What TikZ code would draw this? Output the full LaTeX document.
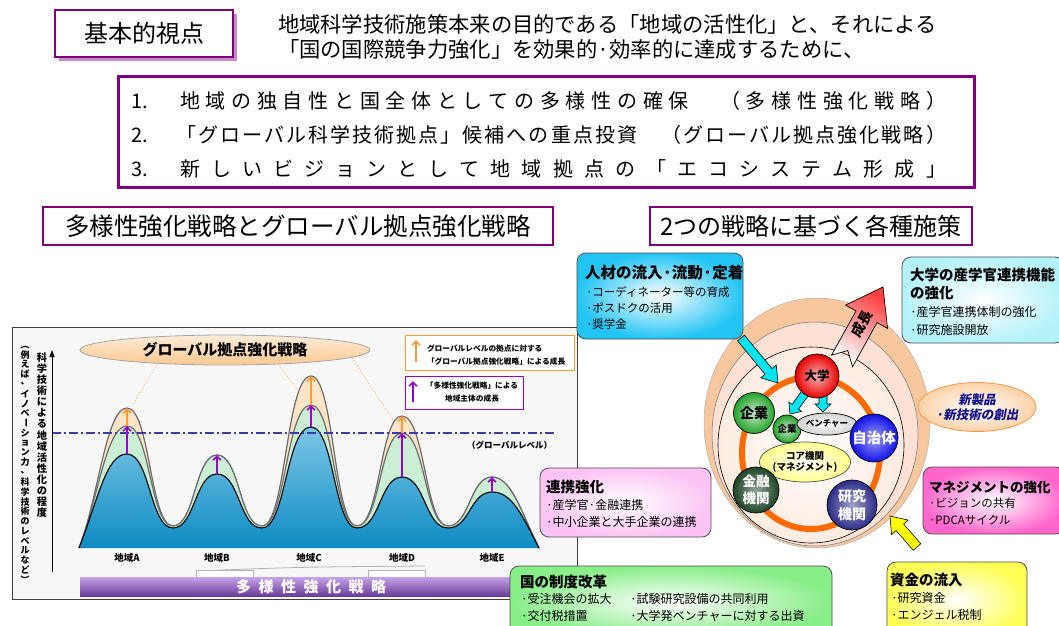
\documentclass[tikz,border=0pt]{standalone}
\usepackage{fontspec}
\usepackage{graphicx}
\setmainfont{Noto Sans CJK JP}
\newfontfamily\jpsl[FakeSlant=0.2]{Noto Sans CJK JP}
\usetikzlibrary{arrows.meta,calc,shapes.geometric}
\definecolor{myPurple}{HTML}{800080}
\definecolor{legOrange}{HTML}{FF9933}
\definecolor{legPurple}{HTML}{9900CC}
\definecolor{navyLine}{HTML}{3B3BA8}
\definecolor{mtBlueTop}{HTML}{7CC6E6}
\definecolor{mtBlueBot}{HTML}{0E8CC4}
\definecolor{mtGreen}{HTML}{CBEFD4}
\definecolor{mtOrange}{HTML}{FDE4C6}
\definecolor{ellPeach}{HTML}{FBC890}
\definecolor{barTop}{HTML}{C7A3E8}
\definecolor{barBot}{HTML}{6A3D9A}
\definecolor{ringOuter}{HTML}{F9C79E}
\definecolor{ringMid}{HTML}{FCE1D4}
\definecolor{ringIn}{HTML}{FDEBE0}
\definecolor{ringOrange}{HTML}{FF6A00}
\definecolor{boxCyan}{HTML}{22C4F4}
\definecolor{boxLCyan}{HTML}{B4F2FA}
\definecolor{boxPink}{HTML}{FF66CC}
\definecolor{boxLPink}{HTML}{FBC4F4}
\definecolor{boxYellow}{HTML}{FFFF55}
\definecolor{boxGreen}{HTML}{88EE88}
\definecolor{arrCyan}{HTML}{00E5F0}
\definecolor{arrYellow}{HTML}{FFFF00}
\definecolor{ballRed}{HTML}{E80000}
\definecolor{ballGreen}{HTML}{22A32A}
\definecolor{ballBlue}{HTML}{1010E8}
\definecolor{ballDkGreen}{HTML}{1E4526}
\definecolor{ballNavy}{HTML}{2C2C88}
\definecolor{coreYellow}{HTML}{FFFF88}
\definecolor{newBlue}{HTML}{10108F}
\definecolor{newPeach}{HTML}{FBD2A8}
\definecolor{newEdge}{HTML}{F79646}
\makeatletter
\newcommand\spreadline[2]{\makebox[#1][s]{\def\spsep{}\@tfor\spch:=#2\do{\spsep\spch\def\spsep{\hfill}}}}
\newcommand\vstack[2]{\vbox{\offinterlineskip\@tfor\spch:=#2\do{\hbox to 1.2em{\hss\vbox to #1{\vss\hbox{\spch}\vss}\hss}}}}
\makeatother
\newcommand\fsz[1]{\fontsize{#1}{#1}\selectfont}
\newcommand\vbar{\rotatebox[origin=c]{-90}{ー}}
\newcommand\vlp{\rotatebox[origin=c]{-90}{（}}
\newcommand\vrp{\rotatebox[origin=c]{-90}{）}}
\newcommand\mtpath[6]{(79,548) .. controls (98,500) and (106,#1) .. (127,#1) .. controls (150,#1) and (150,#6) .. (173,#6) .. controls (195,#6) and (195,#2) .. (217,#2) .. controls (240,#2) and (239,#6) .. (262,#6) .. controls (286,#6) and (286,#3) .. (311,#3) .. controls (334,#3) and (334,#6) .. (357,#6) .. controls (380,#6) and (380,#4) .. (402,#4) .. controls (425,#4) and (425,#6) .. (448,#6) .. controls (470,#6) and (470,#5) .. (492,#5) .. controls (512,#5) and (522,515) .. (539,548)}
\newcommand\fatarrow[6]{%
  \coordinate (fah) at ($(#3)!#6!(#2)$);
  \path[#1] ($(#2)!#4!90:(#3)$) -- ($(fah)!#4!90:(#3)$) -- ($(fah)!#5!90:(#3)$) -- (#3) -- ($(fah)!#5!-90:(#3)$) -- ($(fah)!#4!-90:(#3)$) -- ($(#2)!#4!-90:(#3)$) -- cycle;}
\begin{document}
\begin{tikzpicture}[x=1pt,y=-1pt,
  every node/.style={inner sep=0pt,outer sep=0pt},
  lbl/.style={anchor=west},
  ttl/.style={anchor=west,font={\fsz{14.5}\bfseries}},
  itm/.style={anchor=west,font={\fsz{12}}},
  infobox/.style={draw=black!70,line width=0.8pt,rounded corners=9pt,anchor=north west},
  hdrbox/.style={draw=myPurple,line width=2pt,fill=white,anchor=north west},
  ball/.style={circle,draw=black,line width=0.7pt},
  mtline/.style={draw=gray!85!black,line width=1.2pt},
  dotline/.style={draw=legOrange!70,line width=1pt,dotted},
  purarr/.style={-{Straight Barb[length=4pt,width=8pt]},legPurple,line width=1.6pt},
  orarr/.style={-{Straight Barb[length=4pt,width=8pt]},legOrange,line width=1.6pt},
  fatstyle/.style={draw=black,line width=0.6pt}]
\useasboundingbox (0,0) rectangle (1059,625);
\clip (0,0) rectangle (1059,625);
\fill[white] (0,0) rectangle (1059,625);

% ---------- header ----------
\fill[myPurple!45] (59,14) rectangle (237,61);
\node[draw=myPurple,line width=1.3pt,fill=white,minimum width=178pt,minimum height=47pt,anchor=north west] (kihon) at (55,10) {\fsz{24}基本的視点};
\node[lbl] (intro1) at (278,24) {\fsz{21.3}地域科学技術施策本来の目的である「地域の活性化」と、それによる};
\node[lbl] (intro2) at (278,49) {\fsz{21.3}「国の国際競争力強化」を効果的·効率的に達成するために、};

\node[draw=myPurple,line width=3pt,minimum width=856pt,minimum height=111pt,anchor=north west] (prin) at (118,76) {};
\node[lbl] (num1) at (131,101) {\fsz{20}1.};
\node[lbl] (line1) at (180,101) {\fsz{20}\spreadline{766pt}{地域の独自性と国全体としての多様性の確保　（多様性強化戦略）}};
\node[lbl] (num2) at (131,135) {\fsz{20}2.};
\node[lbl] (line2) at (176,135) {\fsz{20}\spreadline{770pt}{「グローバル科学技術拠点」候補への重点投資　（グローバル拠点強化戦略）}};
\node[lbl] (num3) at (131,169) {\fsz{20}3.};
\node[lbl] (line3) at (180,169) {\fsz{20}\spreadline{766pt}{新しいビジョンとして地域拠点の「エコシステム形成」}};

\node[hdrbox,minimum width=510pt,minimum height=38pt] (hdrL) at (43,207) {\fsz{24.5}多様性強化戦略とグローバル拠点強化戦略};
\node[hdrbox,minimum width=322pt,minimum height=38pt] (hdrR) at (650,207) {\fsz{24}2つの戦略に基づく各種施策};

% ---------- left panel ----------
\node[draw=black!75,line width=0.8pt,fill=black!3,minimum width=565pt,minimum height=272pt,anchor=north west] (panel) at (12,327) {};

\path[fill=mtOrange] \mtpath{408}{455}{376}{416}{477}{526} -- cycle;
\path[mtline] \mtpath{408}{455}{376}{416}{477}{526};
\path[fill=mtGreen] \mtpath{426}{455}{405}{433}{477}{526} -- cycle;
\path[mtline] \mtpath{426}{455}{405}{433}{477}{526};
\shade[top color=mtBlueTop,bottom color=mtBlueBot] \mtpath{454}{474}{427}{477}{492}{528} -- cycle;
\draw[black,line width=1.1pt] \mtpath{454}{474}{427}{477}{492}{528};

\coordinate (glL) at (52,433);
\coordinate (glR) at (557,433);
\draw[navyLine,line width=1.8pt,dash pattern=on 9pt off 3pt on 2pt off 3pt] (glL) -- (glR);
\node[anchor=east] (globLvl) at (552,445) {\fsz{8.5}\bfseries （グローバルレベル）};

\coordinate (bA) at (127,454); \coordinate (gA) at (127,426); \coordinate (oA) at (127,408);
\coordinate (bB) at (217,474); \coordinate (gB) at (217,455);
\coordinate (bC) at (311,427); \coordinate (gC) at (311,405); \coordinate (oC) at (311,376);
\coordinate (bD) at (402,477); \coordinate (gD) at (402,433); \coordinate (oD) at (402,416);
\coordinate (bE) at (492,492); \coordinate (gE) at (492,477);
\draw[purarr] (bA) -- (gA);
\draw[purarr] (bB) -- (gB);
\draw[purarr] (bC) -- (gC);
\draw[purarr] (bD) -- (gD);
\draw[purarr] (bE) -- (gE);
\draw[orarr] (gA) -- (oA);
\draw[orarr] (gC) -- (oC);
\draw[orarr] (gD) -- (oD);

\coordinate (axB) at (52,572);
\coordinate (axT) at (52,350);
\draw[-{Triangle[length=7pt,width=5pt]},line width=1pt] (axB) -- (axT);
\node[anchor=north] (axLbl1) at (42,352) {\fsz{10.2}\bfseries\vstack{11.1pt}{科学技術による地域活性化の程度}};
\node[anchor=north] (axLbl2) at (25,340) {\fsz{9}\bfseries\vstack{9.8pt}{\vlp 例えば、イノベ\vbar ション力、科学技術のレベルなど\vrp}};

\coordinate (e1) at (157,364); \coordinate (dA) at (133,404);
\coordinate (e2) at (278,364); \coordinate (dC) at (299,392);
\coordinate (e3) at (352,358); \coordinate (dD) at (393,420);
\draw[dotline] (e1) -- (dA);
\draw[dotline] (e2) -- (dC);
\draw[dotline] (e3) -- (dD);
\node[ellipse,draw=gray!70,line width=0.8pt,top color=ellPeach!35!white,bottom color=ellPeach,minimum width=290pt,minimum height=30pt] (globEll) at (225,350) {\fsz{15}\bfseries グローバル拠点強化戦略};

\node[draw=legOrange,line width=1pt,fill=white,minimum width=169pt,minimum height=35pt,anchor=north west] (legO) at (405,335) {};
\coordinate (loB) at (416,362); \coordinate (loT) at (416,340);
\draw[orarr] (loB) -- (loT);
\node[lbl] (legOt1) at (427,348) {\fsz{7.7}\bfseries グローバルレベルの拠点に対する};
\node[lbl] (legOt2) at (427,362) {\fsz{7.7}\bfseries 「グローバル拠点強化戦略」による成長};
\node[draw=legPurple,line width=1pt,fill=white,minimum width=118pt,minimum height=33pt,anchor=north west] (legP) at (405,376) {};
\coordinate (lpB) at (413,402); \coordinate (lpT) at (413,381);
\draw[purarr] (lpB) -- (lpT);
\node (legPt1) at (472,386) {\fsz{7.7}\bfseries 「多様性強化戦略」による};
\node (legPt2) at (472,399) {\fsz{7.7}\bfseries 地域主体の成長};

\foreach \n/\x in {A/127,B/217,C/309,D/402,E/492}
  \node (reg\n) at (\x,558) {\fsz{9.5}\bfseries 地域\n};

\draw[gray!60,line width=0.8pt] (196,571) .. controls (300,567) .. (425,566);
\node[draw=gray!60,fill=white,line width=0.5pt,minimum width=57pt,minimum height=7pt,anchor=north west] (brL) at (196,570) {};
\node[draw=gray!60,fill=white,line width=0.5pt,minimum width=57pt,minimum height=7pt,anchor=north west] (brR) at (368,570) {};
\node[anchor=north west,minimum width=430pt,minimum height=19pt,top color=barTop,bottom color=barBot] (divBar) at (80,577) {};
\node (divTxt) at (311,587) {\color{white}\fsz{15}\bfseries\spreadline{150pt}{多様性強化戦略}};

% ---------- right: circles ----------
\node[ellipse,fill=ringOuter,draw=black!30,line width=0.5pt,minimum width=226pt,minimum height=250pt] (ringO) at (817,423) {};
\node[ellipse,fill=ringMid,draw=black!55,line width=0.5pt,minimum width=206pt,minimum height=224pt] (ringM) at (815,434) {};
\node[ellipse,inner color=white,outer color=ringIn,draw=black,line width=0.6pt,minimum width=186pt,minimum height=196pt] (ringI) at (811,445) {};
\node[ellipse,draw=ringOrange,line width=6pt,minimum width=138pt,minimum height=152pt] (ringCore) at (811,453) {};

% growth arrow
\coordinate (grB) at (842,361);
\coordinate (grT) at (883,287);
\coordinate (grH) at ($(grT)!34pt!(grB)$);
\coordinate (grN) at ($(grB)!12pt!(grT)$);
\path[draw=black,line width=0.7pt,top color=red!75!white,bottom color=white,shading angle=-29]
  ($(grB)!12pt!90:(grT)$) -- ($(grH)!12pt!90:(grT)$) -- ($(grH)!24pt!90:(grT)$) -- (grT)
  -- ($(grH)!24pt!-90:(grT)$) -- ($(grH)!12pt!-90:(grT)$) -- ($(grB)!12pt!-90:(grT)$) -- (grN) -- cycle;
\node[rotate=61] (grTxt) at (862,324) {\fsz{14}\bfseries 成長};

% small cyan arrows from 大学
\coordinate (c1S) at (806,392); \coordinate (c1T) at (790,414);
\fatarrow{fill=arrCyan,fatstyle}{c1S}{c1T}{4pt}{8pt}{9pt}
\coordinate (c2S) at (823,394); \coordinate (c2T) at (823,412);
\fatarrow{fill=arrCyan,fatstyle}{c2S}{c2T}{4pt}{8pt}{8pt}

\node[ball,minimum size=44pt,inner color=ballRed!30!white,outer color=ballRed] (daigaku) at (817,376) {\fsz{12.5}\bfseries 大学};
\node[ball,minimum size=41pt,inner color=ballGreen!25!white,outer color=ballGreen] (kigyoL) at (754,413) {\fsz{14}\bfseries 企業};
\node[ball,minimum size=28pt,inner color=ballGreen!25!white,outer color=ballGreen] (kigyoS) at (787,429) {\fsz{9.5}\bfseries 企業};
\node[ellipse,draw=black,line width=0.7pt,inner color=white,outer color=gray!35,minimum width=50pt,minimum height=22pt] (venture) at (827,424) {\fsz{8.5}\bfseries ベンチャー};
\node[ball,minimum size=48pt,inner color=ballBlue!40!white,outer color=ballBlue,text=white] (jichitai) at (874,438) {\fsz{14.5}\bfseries 自治体};
\node[ellipse,draw=black!70,line width=0.7pt,inner color=white,outer color=coreYellow,minimum width=74pt,minimum height=40pt,align=center,font={\fsz{9.5}\bfseries}] (core) at (805,462) {コア機関\\[2pt](マネジメント)};
\node[ball,minimum size=46pt,inner color=ballDkGreen!50!white,outer color=ballDkGreen,text=white,align=center,font={\fsz{13.5}\bfseries}] (kinyu) at (756,490) {金融\\[4pt]機関};
\node[ball,minimum size=50pt,inner color=ballNavy!45!white,outer color=ballNavy,text=white,align=center,font={\fsz{14}\bfseries}] (kenkyu) at (852,505) {研究\\[4pt]機関};

\node[ellipse,draw=newEdge,line width=0.8pt,inner color=white,outer color=newPeach,minimum width=118pt,minimum height=49pt,align=center,text=newBlue,font={\jpsl\fsz{12.5}\bfseries}] (newprod) at (977,407) {新製品\\[3pt]·新技術の創出};

% ---------- boxes ----------
\node[infobox,inner color=white,outer color=boxCyan,minimum width=166pt,minimum height=86pt] (jinzaiBox) at (577,253) {};
\node[ttl,font={\fsz{15.5}\bfseries}] (jinzaiT) at (585,273) {人材の流入·流動·定着};
\node[itm,font={\fsz{11.5}}] (jinzai1) at (586,292) {·コーディネーター等の育成};
\node[itm,font={\fsz{11.5}}] (jinzai2) at (586,308) {·ポスドクの活用};
\node[itm,font={\fsz{11.5}}] (jinzai3) at (586,324) {·奨学金};

\node[infobox,inner color=white,outer color=boxLCyan,minimum width=162pt,minimum height=86pt] (sangakuBox) at (902,257) {};
\node[ttl] (sangakuT1) at (910,275) {大学の産学官連携機能};
\node[ttl] (sangakuT2) at (910,293) {の強化};
\node[itm] (sangaku1) at (910,312) {·産学官連携体制の強化};
\node[itm] (sangaku2) at (910,330) {·研究施設開放};

\node[infobox,inner color=white,outer color=boxPink,minimum width=142pt,minimum height=67pt] (mgmtBox) at (923,467) {};
\node[ttl,font={\fsz{13.5}\bfseries}] (mgmtT) at (929,487) {マネジメントの強化};
\node[itm,font={\fsz{11.5}}] (mgmt1) at (929,503) {·ビジョンの共有};
\node[itm,font={\fsz{11.5}}] (mgmt2) at (929,520) {·PDCAサイクル};

\node[infobox,inner color=white,outer color=boxYellow,minimum width=140pt,minimum height=76pt] (shikinBox) at (887,562) {};
\node[ttl] (shikinT) at (890,580) {資金の流入};
\node[itm] (shikin1) at (891,598) {·研究資金};
\node[itm] (shikin2) at (891,615) {·エンジェル税制};

\node[infobox,inner color=white,outer color=boxLPink,minimum width=171pt,minimum height=69pt] (renkeiBox) at (540,468) {};
\node[ttl] (renkeiT) at (546,487) {連携強化};
\node[itm] (renkei1) at (546,505) {·産学官·金融連携};
\node[itm] (renkei2) at (546,522) {·中小企業と大手企業の連携};

\node[infobox,inner color=white,outer color=boxGreen,minimum width=322pt,minimum height=72pt] (seidoBox) at (510,566) {};
\node[ttl] (seidoT) at (520,582) {国の制度改革};
\node[itm] (seido1) at (521,599) {·受注機会の拡大};
\node[itm] (seido2) at (521,616) {·交付税措置};
\node[itm] (seido3) at (630,599) {·試験研究設備の共同利用};
\node[itm] (seido4) at (630,616) {·大学発ベンチャーに対する出資};

% ---------- big arrows ----------
\coordinate (cyS) at (741,338); \coordinate (cyT) at (778,383);
\fatarrow{fill=arrCyan,fatstyle}{cyS}{cyT}{4.5pt}{10pt}{15pt}
\coordinate (ylS) at (917,547); \coordinate (ylT) at (890,516);
\fatarrow{fill=arrYellow,fatstyle}{ylS}{ylT}{5pt}{11pt}{15pt}
\end{tikzpicture}
\end{document}
